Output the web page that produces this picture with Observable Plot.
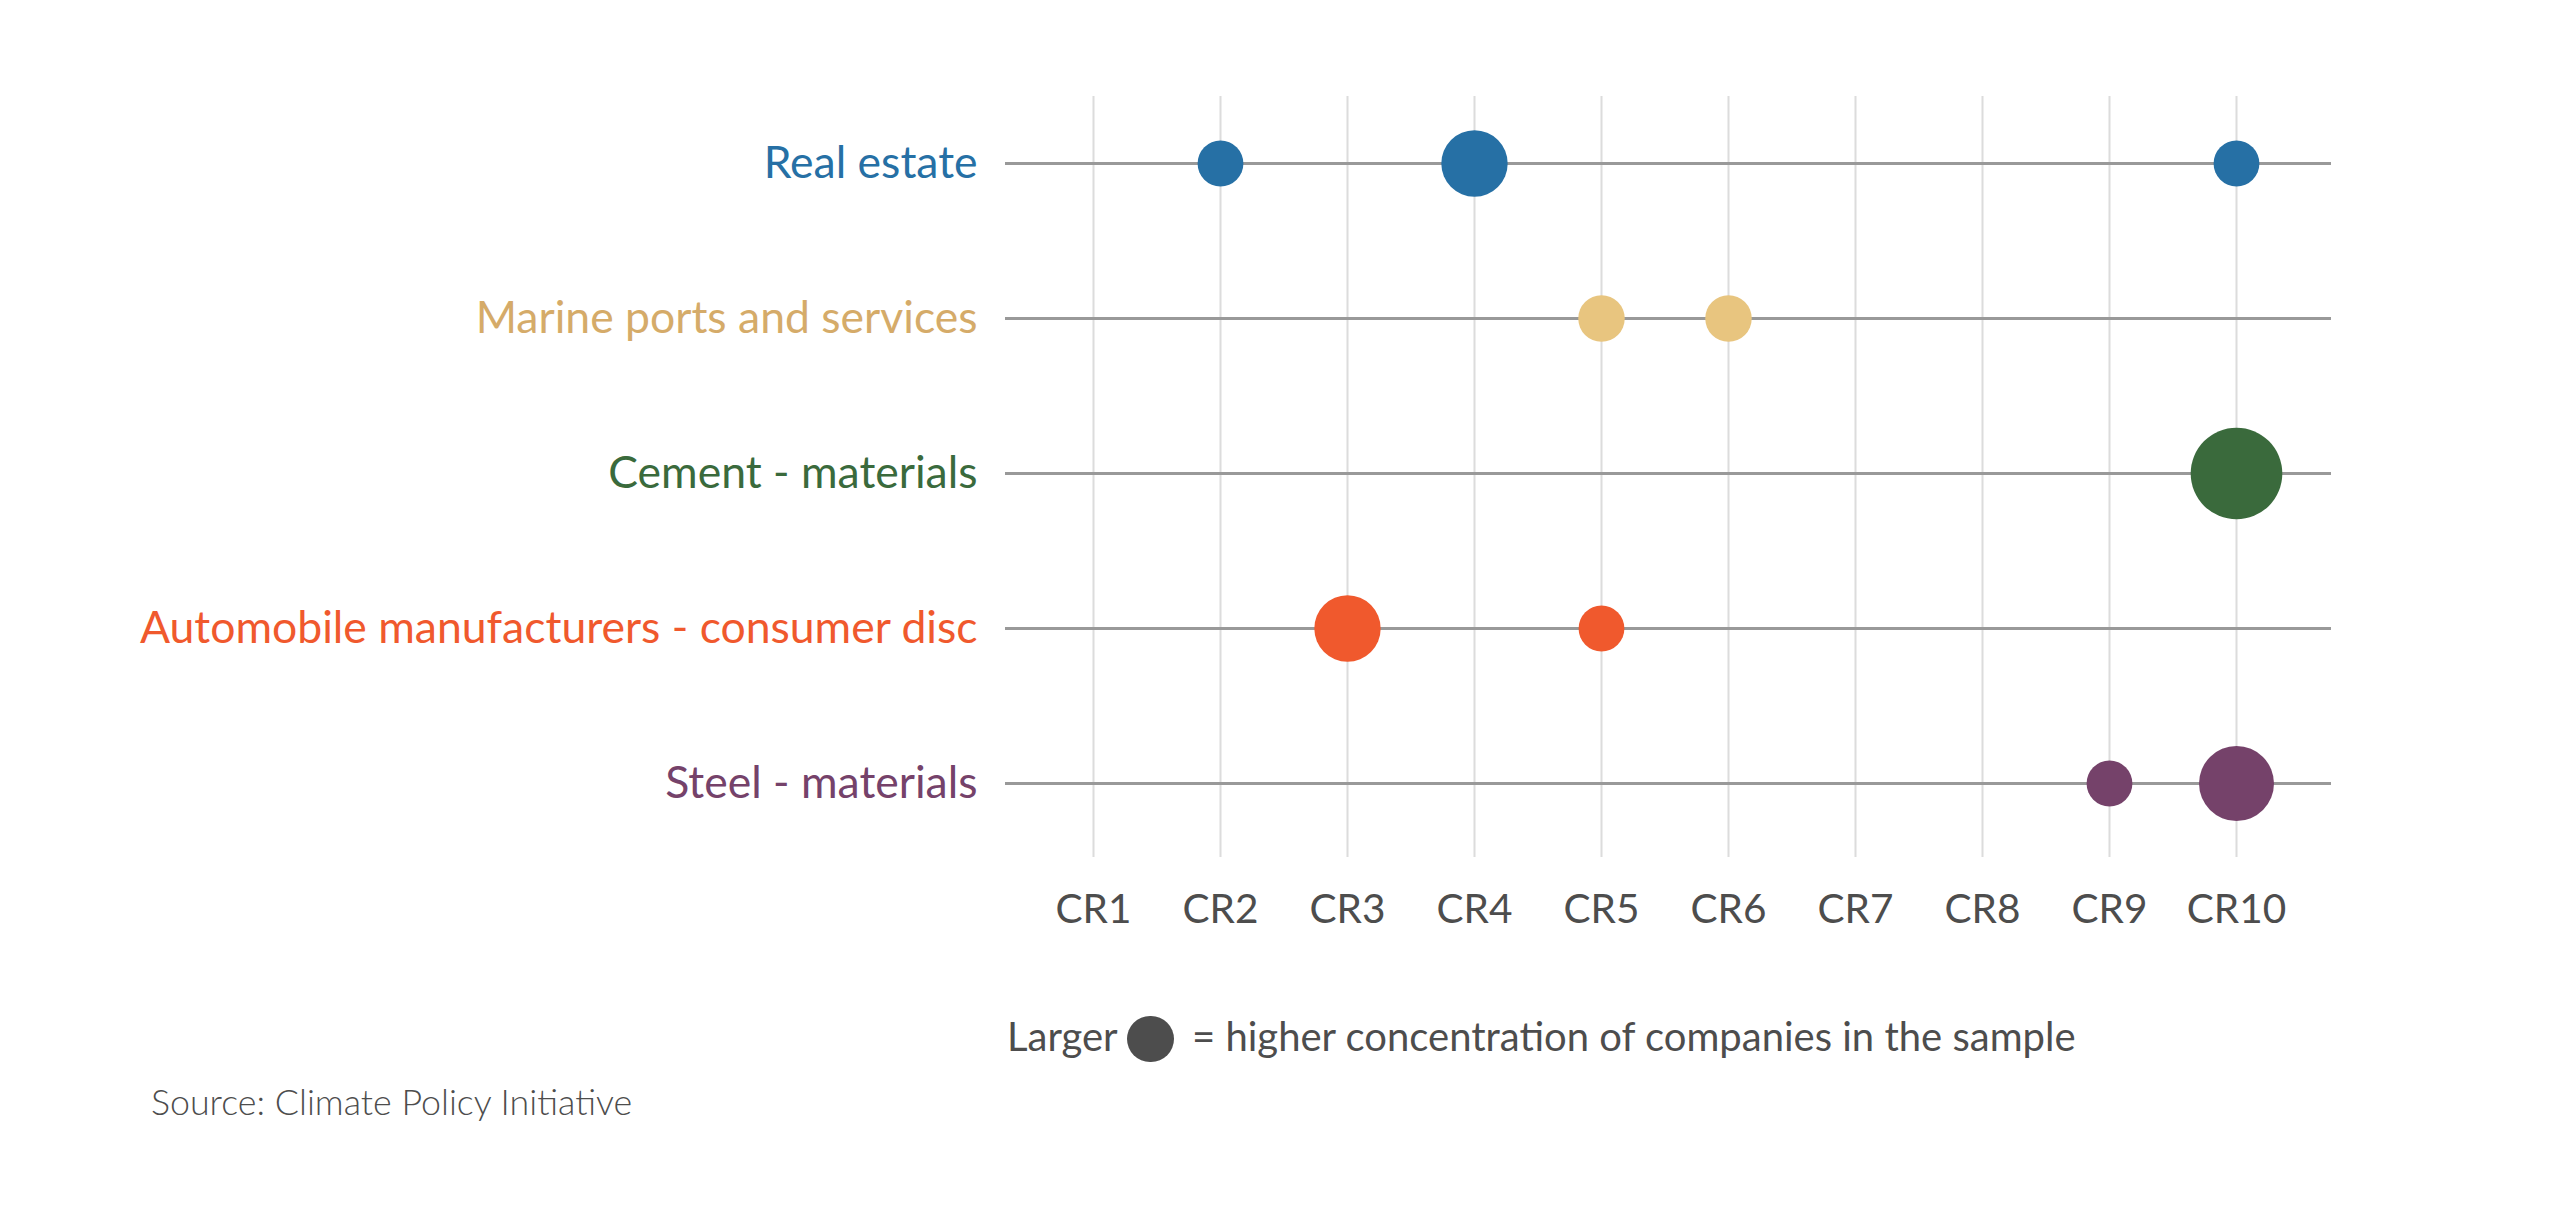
<!DOCTYPE html>
<html>
<head>
<meta charset="utf-8">
<script src="https://cdn.jsdelivr.net/npm/d3@7"></script>
<script src="https://cdn.jsdelivr.net/npm/@observablehq/plot@0.6"></script>
<style>
  html, body { margin: 0; padding: 0; background: #ffffff; }
  #wrap { position: relative; width: 2550px; height: 1221px; background: #ffffff; font-family: Lato, "Open Sans", sans-serif; }
  #chart { position: absolute; left: 0; top: 0; }
  .leg { position: absolute; font-size: 40px; line-height: 40px; color: #4d4d4d; white-space: nowrap; }
  #legdot { position: absolute; width: 46.7px; height: 46.7px; border-radius: 50%; background: #4d4d4d; }
  #source { position: absolute; left: 151px; top: 1084px; font-size: 35.8px; line-height: 36px; font-weight: 300; color: #4d4d4d; white-space: nowrap; }
</style>
</head>
<body>
<div id="wrap">
  <div id="chart"></div>
  <div class="leg" id="leg1" style="left:1007px; top:1016px;">Larger</div>
  <div id="legdot" style="left:1127px; top:1015.7px;"></div>
  <div class="leg" id="leg2" style="left:1192px; top:1016px;">= higher concentration of companies in the sample</div>
  <div id="source">Source: Climate Policy Initiative</div>
</div>
<script>
// Categories (top to bottom)
const sectors = [
  "Real estate",
  "Marine ports and services",
  "Cement - materials",
  "Automobile manufacturers - consumer disc",
  "Steel - materials"
];
// Tick labels
const crLabels = ["CR1", "CR2", "CR3", "CR4", "CR5", "CR6", "CR7", "CR8", "CR9", "CR10"];
// Colours per sector
const dotColors = ["#2670a5", "#e8c57f", "#3a6a3c", "#f0592d", "#75426a"];
const labelColors = ["#2670a5", "#d5ab69", "#3a6a3c", "#f0592d", "#75426a"];
// Dots: sector, CR position, relative concentration (bubble size)
const dotSector = ["Real estate", "Real estate", "Real estate",
  "Marine ports and services", "Marine ports and services",
  "Cement - materials",
  "Automobile manufacturers - consumer disc", "Automobile manufacturers - consumer disc",
  "Steel - materials", "Steel - materials"];
const dotCR = ["CR2", "CR4", "CR10", "CR5", "CR6", "CR10", "CR3", "CR5", "CR9", "CR10"];
const dotSize = [1, 2.1, 1, 1.03, 1.03, 4, 2.1, 1, 1, 2.68];

const table = dotSector.map((s, i) => ({sector: s, cr: dotCR[i], size: dotSize[i]}));

const W = 2550, H = 960;
const chart = Plot.plot({
  width: W,
  height: H,
  marginLeft: 1005,
  marginRight: 219,
  marginTop: 96,
  marginBottom: 103,
  style: {fontFamily: "Lato, 'Open Sans', sans-serif", background: "#ffffff", overflow: "visible"},
  x: {type: "point", domain: crLabels, range: [1090, 2239], padding: 0, axis: null},
  y: {type: "point", domain: sectors, range: [162.7, 783], padding: 0, axis: null},
  r: {type: "sqrt", domain: [0, 4], range: [0, 45.8]},
  color: {domain: sectors, range: dotColors},
  marks: [
    Plot.ruleX(crLabels, {x: d => d, stroke: "#dcdcdc", strokeWidth: 2}),
    Plot.ruleY(sectors, {y: d => d, stroke: "#999999", strokeWidth: 3}),
    Plot.dot(table, {x: "cr", y: "sector", r: "size", fill: "sector"}),
    ...sectors.map((s, i) => Plot.text([s], {
      y: d => d, frameAnchor: "left", textAnchor: "end", dx: -28,
      fill: labelColors[i], fontSize: 44.5
    })),
    Plot.text(crLabels, {x: d => d, frameAnchor: "bottom", lineAnchor: "middle", dy: 53, fill: "#4d4d4d", fontSize: 40.5})
  ]
});
document.getElementById("chart").appendChild(chart);
</script>
</body>
</html>
